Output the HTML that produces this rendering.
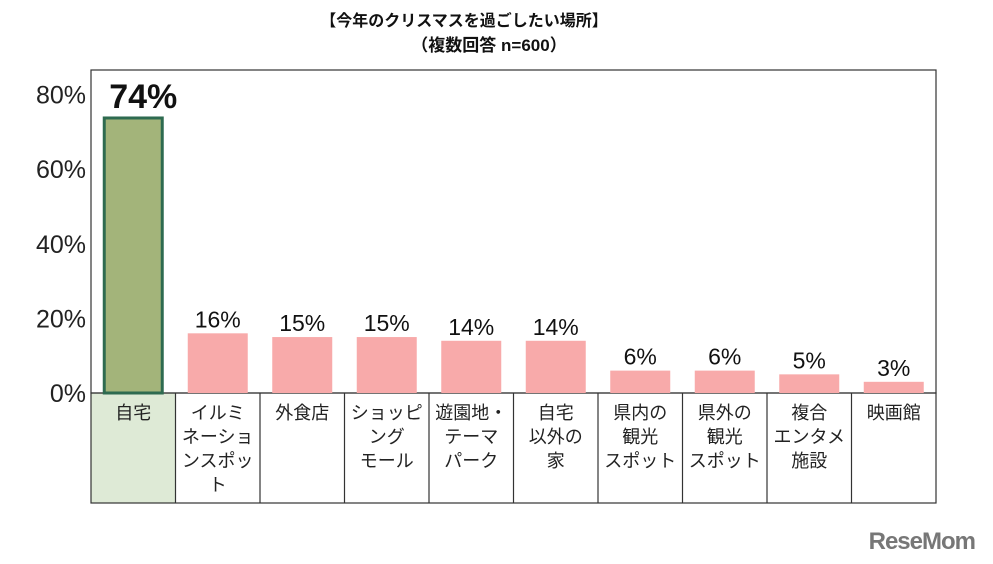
<!DOCTYPE html>
<html><head><meta charset="utf-8">
<style>
body{margin:0;background:#fff;width:993px;height:564px;overflow:hidden;font-family:"Liberation Sans","Noto Sans CJK JP",sans-serif;}
svg{display:block}
</style></head>
<body>
<svg width="993" height="564" viewBox="0 0 993 564">
<g id="root"></g>
</svg>
<script>
const categories = ["自宅","イルミ|ネーショ|ンスポッ|ト","外食店","ショッピ|ング|モール","遊園地・|テーマ|パーク","自宅|以外の|家","県内の|観光|スポット","県外の|観光|スポット","複合|エンタメ|施設","映画館"];
const values = [74,16,15,15,14,14,6,6,5,3];
const valueLabels = ["74%","16%","15%","15%","14%","14%","6%","6%","5%","3%"];
const yTicks = [0,20,40,60,80];

const NS="http://www.w3.org/2000/svg";
const root=document.getElementById('root');
const X0=91, X1=936, Y0=393, TB=503, PX=3.73;
const colW=(X1-X0)/categories.length;
const y=v=>Y0-v*PX;
const xc=i=>X0+colW*(i+0.5);
function mk(t,a,txt){const e=document.createElementNS(NS,t);for(const k in a)e.setAttribute(k,a[k]);if(txt!=null)e.textContent=txt;root.appendChild(e);return e;}

let t=mk('text',{x:464,y:26,'text-anchor':'middle','font-size':16,'font-weight':'bold',fill:'#111'},'【今年のクリスマスを過ごしたい場所】');

t=mk('text',{x:489,y:51,'text-anchor':'middle','font-size':17,'font-weight':'bold',fill:'#111'},'（複数回答  n=600）');


let r=mk('rect',{x:X0,y:Y0,width:colW,height:TB-Y0,fill:'#deead6'});

r=mk('rect',{x:X0,y:70,width:X1-X0,height:Y0-70,fill:'none',stroke:'#333','stroke-width':1.2});

r=mk('rect',{x:X0,y:Y0,width:X1-X0,height:TB-Y0,fill:'none',stroke:'#333','stroke-width':1.2});


yTicks.forEach(v=>{
  const e=mk('text',{x:86,y:y(v)+9,'text-anchor':'end','font-size':25,fill:'#222'},v+'%');
  
  
});

categories.forEach((c,i)=>{
  if(i>0){const l=mk('line',{x1:X0+colW*i,x2:X0+colW*i,y1:Y0,y2:TB,stroke:'#333','stroke-width':1.2});
    
    }
  const bw=60, top=y(values[i]);
  const b=mk('rect',i==0?{x:xc(i)-bw/2+1,y:top+1,width:bw-2,height:Y0-top-1,fill:'#a3b47a',stroke:'#2e6b50','stroke-width':3}:{x:xc(i)-bw/2,y:top,width:bw,height:Y0-top,fill:'#f8aaaa'});
  
  
  const lb=mk('text',{x:i==0?xc(i)+10:xc(i),y:top-(i==0?9:6),'text-anchor':'middle','font-size':i==0?34:23,'font-weight':i==0?'bold':'normal',fill:'#111'},valueLabels[i]);
  
  
  c.split('|').forEach((ln,j)=>{
    const e=mk('text',{x:xc(i),y:Y0+26+j*24,'text-anchor':'middle','font-size':18,fill:'#222'},ln);
    
    
  });
});
const logo=mk('text',{x:975,y:549,'text-anchor':'end','font-size':24,'font-weight':'bold',fill:'#777','letter-spacing':-1},'ReseMom');


</script>
</body></html>
